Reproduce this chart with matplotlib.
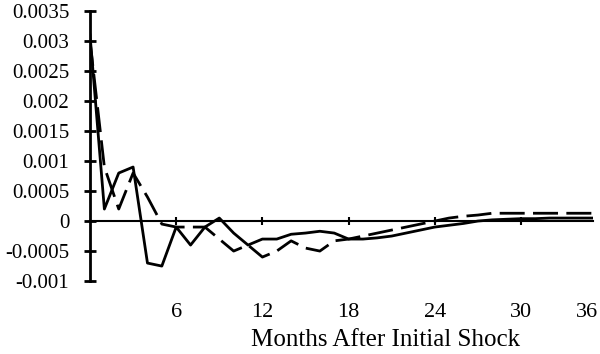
import numpy as np
import matplotlib
matplotlib.use('Agg')
import matplotlib.pyplot as plt

plt.rcParams['font.family'] = ['Liberation Serif', 'DejaVu Serif']

months = np.arange(0, 36)
solid = [0.0031, 0.0002, 0.0008, 0.0009, -0.0007, -0.00075, -0.0001, -0.0004, -0.0001, 0.00005,
         -0.0002, -0.0004, -0.0003, -0.0003, -0.00022, -0.0002, -0.00017, -0.0002, -0.0003, -0.0003,
         -0.00028, -0.00025, -0.0002, -0.00015, -0.0001, -0.00007, -0.00004, 0.0, 0.00002, 0.00003,
         0.00004, 0.00004, 0.00005, 0.00005, 0.00005, 0.00005]
dashed = [0.0030, 0.0009, 0.0002, 0.0008, 0.0004, -0.00005, -0.0001, -0.0001, -0.0001, -0.0003,
          -0.0005, -0.0004, -0.0006, -0.0005, -0.00033, -0.00045, -0.0005, -0.00033, -0.0003, -0.00025,
          -0.0002, -0.00015, -0.0001, -0.00005, 0.0, 0.00005, 0.00008, 0.0001, 0.00013, 0.00013,
          0.00013, 0.00013, 0.00013, 0.00013, 0.00013, 0.00013]

yticks = [0.0035, 0.003, 0.0025, 0.002, 0.0015, 0.001, 0.0005, 0, -0.0005, -0.001]
ylabels = ['0.0035', '0.003', '0.0025', '0.002', '0.0015', '0.001', '0.0005', '0', '-0.0005', '-0.001']
xticks = [6, 12, 18, 24, 30, 34.6]
xlabels = ['6', '12', '18', '24', '30', '36']

fig = plt.figure(figsize=(6, 3.54), dpi=100)
ax = fig.add_axes([0.15, 0.206, 0.838, 0.763])

ax.plot(months, solid, color='black', lw=2)
ax.plot(months, dashed, color='black', lw=2, dashes=(9, 3))

ax.set_xlim(0, 35)
ax.set_ylim(-0.001, 0.0035)

for s in ['top', 'right']:
    ax.spines[s].set_visible(False)
ax.spines['left'].set_linewidth(2)
ax.spines['bottom'].set_position(('data', 0))
ax.spines['bottom'].set_linewidth(1.5)

ax.set_yticks(yticks)
ax.set_yticklabels(ylabels)
ax.set_xticks(xticks)
ax.set_xticklabels(xlabels)
ax.tick_params(axis='y', direction='inout', length=8, width=2, pad=11, labelsize=15)
ax.tick_params(axis='x', direction='inout', length=6, width=1.5, pad=56, labelsize=16)
ax.xaxis.get_major_ticks()[-1].tick1line.set_visible(False)

fig.text(0.642, 0.04, 'Months After Initial Shock', ha='center', va='center', fontsize=18)

fig.savefig('out.png')
